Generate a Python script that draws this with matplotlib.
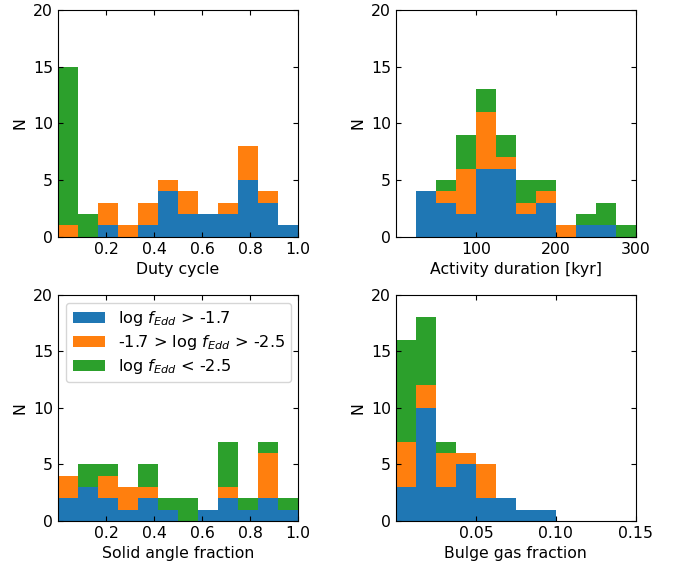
import numpy as np
import matplotlib
matplotlib.use("Agg")
import matplotlib.pyplot as plt

plt.rcParams["font.size"] = 11.3

# ---- counts per bin, by Eddington-ratio class ----
# duty cycle (12 bins on 0..1)
duty_edges = np.linspace(0, 1, 13)
duty_high = [0, 0, 1, 0, 1, 4, 2, 2, 2, 5, 3, 1]
duty_mid = [1, 0, 2, 1, 2, 1, 2, 0, 1, 3, 1, 0]
duty_low = [14, 2, 0, 0, 0, 0, 0, 0, 0, 0, 0, 0]

# activity duration [kyr] (bins of 25 from 25 to 300)
dur_edges = np.arange(25, 301, 25)
dur_high = [4, 3, 2, 6, 6, 2, 3, 0, 1, 1, 0]
dur_mid = [0, 1, 4, 5, 1, 1, 1, 1, 0, 0, 0]
dur_low = [0, 1, 3, 2, 2, 2, 1, 0, 1, 2, 1]

# solid angle fraction (12 bins on 0..1)
solid_edges = np.linspace(0, 1, 13)
solid_high = [2, 3, 2, 1, 2, 1, 0, 1, 2, 1, 2, 1]
solid_mid = [2, 0, 2, 2, 1, 0, 0, 0, 1, 0, 4, 0]
solid_low = [0, 2, 1, 0, 2, 1, 2, 0, 4, 1, 1, 1]

# bulge gas fraction (bins of 0.0125 on 0..0.15)
gas_edges = np.linspace(0, 0.15, 13)
gas_high = [3, 10, 3, 5, 2, 2, 1, 1, 0, 0, 0, 0]
gas_mid = [4, 2, 3, 1, 3, 0, 0, 0, 0, 0, 0, 0]
gas_low = [9, 6, 1, 0, 0, 0, 0, 0, 0, 0, 0, 0]

labels = [r"log $f_{Edd}$ > -1.7",
          r"-1.7 > log $f_{Edd}$ > -2.5",
          r"log $f_{Edd}$ < -2.5"]

panels = [
    ("Duty cycle", duty_edges, (duty_high, duty_mid, duty_low), (0, 1), [0.2, 0.4, 0.6, 0.8, 1.0], "{:.1f}"),
    ("Activity duration [kyr]", dur_edges, (dur_high, dur_mid, dur_low), (0, 300), [100, 200, 300], "{:d}"),
    ("Solid angle fraction", solid_edges, (solid_high, solid_mid, solid_low), (0, 1), [0.2, 0.4, 0.6, 0.8, 1.0], "{:.1f}"),
    ("Bulge gas fraction", gas_edges, (gas_high, gas_mid, gas_low), (0, 0.15), [0.05, 0.10, 0.15], "{:.2f}"),
]

fig, axes = plt.subplots(2, 2, figsize=(6.75, 5.67), dpi=100)
fig.subplots_adjust(left=0.086, right=0.942, top=0.982, bottom=0.081,
                    wspace=0.408, hspace=0.256)

for ax, (xlabel, edges, counts, xlim, xt, fmt) in zip(axes.flat, panels):
    centers = 0.5 * (edges[:-1] + edges[1:])
    ax.hist([centers] * 3, bins=edges, weights=counts, stacked=True,
            histtype="stepfilled", color=["C0", "C1", "C2"], label=labels)
    ax.set_xlim(*xlim)
    ax.set_ylim(0, 20)
    ax.set_xticks(xt)
    ax.set_xticklabels([fmt.format(v) for v in xt])
    ax.set_yticks([0, 5, 10, 15, 20])
    ax.tick_params(direction="in", top=True, right=True)
    ax.set_xlabel(xlabel)
    ax.set_ylabel("N")

# legend lists the classes top-down from highest Eddington ratio
handles, labs = axes[1, 0].get_legend_handles_labels()
axes[1, 0].legend(handles[::-1], labs[::-1], loc="upper left",
                  fontsize=11.6, labelspacing=0.3)

fig.savefig("out.png", dpi=100)
